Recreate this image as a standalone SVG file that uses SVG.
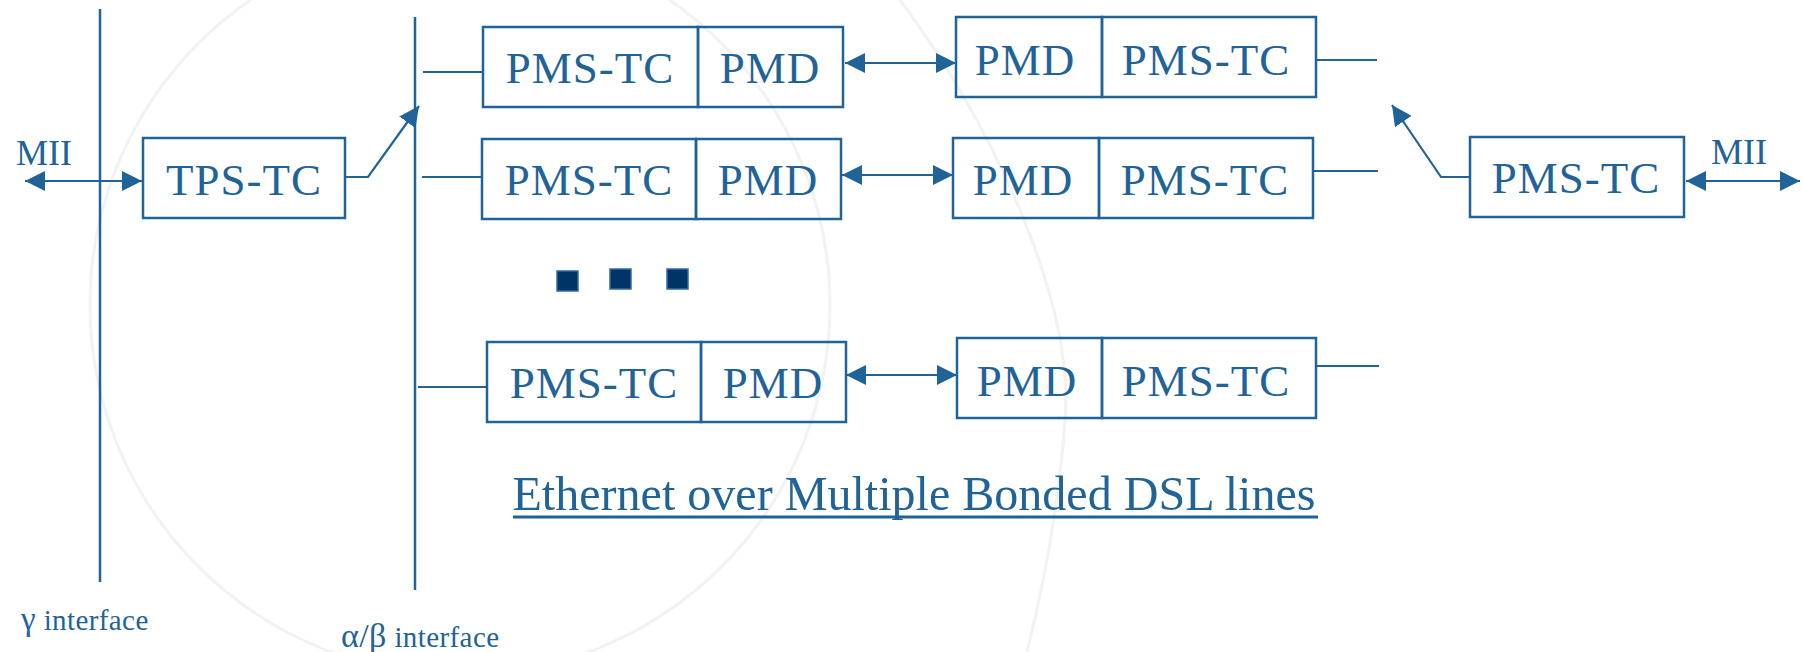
<svg xmlns="http://www.w3.org/2000/svg" width="1803" height="652" viewBox="0 0 1803 652">
<style>
.bx{fill:none;stroke:#1f6399;stroke-width:2.5}
.ln{fill:none;stroke:#1f6399;stroke-width:2.2}
.vl{fill:none;stroke:#1f6399;stroke-width:2.5}
.t{font-family:"Liberation Serif","Times New Roman",serif;fill:#1f6399;text-anchor:middle}
.bt{font-size:45px;letter-spacing:1px}
.lab{text-anchor:start;font-size:29px;letter-spacing:0.4px}
.arc{fill:none;stroke:#f2f2f2;stroke-width:3}
.sq{fill:#003366;stroke:#2f6ca3;stroke-width:1.5}
</style>
<defs>
<marker id="ah" viewBox="0 0 20 20" refX="20" refY="10" markerWidth="20" markerHeight="20" markerUnits="userSpaceOnUse" orient="auto-start-reverse">
<path d="M0,0 L20,10 L0,20 Z" fill="#1f6399"/>
</marker>
</defs>
<rect width="1803" height="652" fill="#ffffff"/>
<g id="background">
<circle class="arc" cx="460" cy="305" r="370"/>
<path class="arc" d="M900,0 C990,120 1075,300 1065,420 C1058,520 1040,600 1027,652"/>
</g>
<g id="interfaces">
<line class="vl" x1="100" y1="9" x2="100" y2="582"/>
<line class="vl" x1="415" y1="17" x2="415" y2="590"/>
<text class="t lab" x="21" y="630"><tspan font-size="33">γ</tspan> interface</text>
<text class="t lab" x="341" y="647"><tspan font-size="34">α/β</tspan> interface</text>
</g>
<g id="mii-left"><text class="t" x="44" y="165" font-size="36">MII</text></g>
<g id="mii-right"><text class="t" x="1739" y="164" font-size="36">MII</text></g>
<g id="tps-tc">
<rect class="bx" x="143" y="138" width="202" height="80"/>
<text class="t bt" x="244" y="195">TPS-TC</text>
</g>
<g id="row1-left">
<rect class="bx" x="483" y="27" width="215" height="80"/>
<rect class="bx" x="698" y="27" width="145" height="80"/>
<text class="t bt" x="590" y="83">PMS-TC</text>
<text class="t bt" x="770" y="83">PMD</text>
</g>
<g id="row2-left">
<rect class="bx" x="482" y="139" width="214" height="80"/>
<rect class="bx" x="696" y="139" width="145" height="80"/>
<text class="t bt" x="589" y="195">PMS-TC</text>
<text class="t bt" x="768" y="195">PMD</text>
</g>
<g id="row3-left">
<rect class="bx" x="487" y="342" width="214" height="80"/>
<rect class="bx" x="701" y="342" width="145" height="80"/>
<text class="t bt" x="594" y="398">PMS-TC</text>
<text class="t bt" x="773" y="398">PMD</text>
</g>
<g id="row1-right">
<rect class="bx" x="956" y="17" width="146" height="80"/>
<rect class="bx" x="1102" y="17" width="214" height="80"/>
<text class="t bt" x="1025" y="75">PMD</text>
<text class="t bt" x="1206" y="75">PMS-TC</text>
</g>
<g id="row2-right">
<rect class="bx" x="953" y="138" width="146" height="80"/>
<rect class="bx" x="1099" y="138" width="214" height="80"/>
<text class="t bt" x="1023" y="195">PMD</text>
<text class="t bt" x="1205" y="195">PMS-TC</text>
</g>
<g id="row3-right">
<rect class="bx" x="957" y="338" width="145" height="80"/>
<rect class="bx" x="1102" y="338" width="214" height="80"/>
<text class="t bt" x="1027" y="396">PMD</text>
<text class="t bt" x="1206" y="396">PMS-TC</text>
</g>
<g id="pms-tc-right">
<rect class="bx" x="1470" y="137" width="214" height="80"/>
<text class="t bt" x="1576" y="193">PMS-TC</text>
</g>
<g id="ellipsis">
<rect class="sq" x="557" y="271" width="21" height="20"/>
<rect class="sq" x="610" y="269" width="21" height="20"/>
<rect class="sq" x="667" y="269" width="21" height="20"/>
</g>
<g id="title">
<text class="t" x="914" y="510" font-size="48" textLength="803" lengthAdjust="spacingAndGlyphs">Ethernet over Multiple Bonded DSL lines</text>
<line x1="513" y1="517" x2="1318" y2="517" stroke="#1f6399" stroke-width="3"/>
</g>
<g id="connectors">
<line class="ln" x1="25" y1="181" x2="142" y2="181" marker-start="url(#ah)" marker-end="url(#ah)"/>
<path class="ln" d="M345,177 H368 L419,106" marker-end="url(#ah)"/>
<line class="ln" x1="423" y1="72" x2="483" y2="72"/>
<line class="ln" x1="422" y1="177" x2="482" y2="177"/>
<line class="ln" x1="418" y1="387" x2="487" y2="387"/>
<line class="ln" x1="845" y1="63" x2="956" y2="63" marker-start="url(#ah)" marker-end="url(#ah)"/>
<line class="ln" x1="842" y1="175" x2="953" y2="175" marker-start="url(#ah)" marker-end="url(#ah)"/>
<line class="ln" x1="846" y1="375" x2="957" y2="375" marker-start="url(#ah)" marker-end="url(#ah)"/>
<line class="ln" x1="1316" y1="60" x2="1377" y2="60"/>
<line class="ln" x1="1313" y1="171" x2="1378" y2="171"/>
<line class="ln" x1="1316" y1="366" x2="1379" y2="366"/>
<path class="ln" d="M1470,177 H1441 L1392,105" marker-end="url(#ah)"/>
<line class="ln" x1="1686" y1="181" x2="1800" y2="181" marker-start="url(#ah)" marker-end="url(#ah)"/>
</g>
</svg>
